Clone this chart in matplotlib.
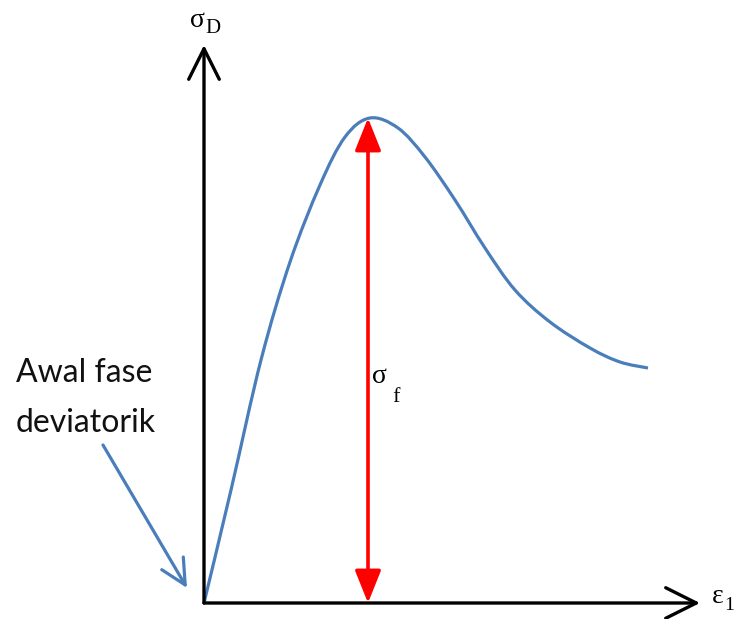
import matplotlib
matplotlib.use("Agg")
import matplotlib.pyplot as plt
from matplotlib.path import Path
from matplotlib.patches import PathPatch

# Deviator stress vs axial strain (arbitrary units)
strain = [0, 27, 57, 86, 116, 141, 166, 194, 221, 251, 281, 311, 346, 386,
          416, 444]
stress = [0, 113, 243, 341, 418, 466, 485, 475, 446, 403, 355, 313, 281, 255,
          241, 235]
peak_strain = 164
peak_stress = 485

x_axis_end = 496
y_axis_end = 558

BLUE = "#4a7ebb"


def smooth_path(xs, ys):
    """Cubic Bezier path passing through every point (Catmull-Rom tangents)."""
    pts = list(zip(xs, ys))
    verts = [pts[0]]
    codes = [Path.MOVETO]
    n = len(pts)
    for i in range(n - 1):
        p0 = pts[i - 1] if i > 0 else pts[i]
        p1 = pts[i]
        p2 = pts[i + 1]
        p3 = pts[i + 2] if i + 2 < n else pts[i + 1]
        c1 = (p1[0] + (p2[0] - p0[0]) / 6, p1[1] + (p2[1] - p0[1]) / 6)
        c2 = (p2[0] - (p3[0] - p1[0]) / 6, p2[1] - (p3[1] - p1[1]) / 6)
        verts += [c1, c2, p2]
        codes += [Path.CURVE4] * 3
    return Path(verts, codes)


fig = plt.figure(figsize=(7.38, 6.19), dpi=100)
ax = fig.add_axes([0, 0, 1, 1])
ax.set_xlim(-204, 534)
ax.set_ylim(-16, 603)
ax.axis("off")

# axes with open arrowheads
axis_style = "->,head_length=22,head_width=11"
ax.annotate("", xy=(x_axis_end, 0), xytext=(0, 0),
            arrowprops=dict(arrowstyle=axis_style, mutation_scale=1,
                            lw=2.4, color="black", shrinkA=0, shrinkB=0))
ax.annotate("", xy=(0, y_axis_end), xytext=(0, 0),
            arrowprops=dict(arrowstyle=axis_style, mutation_scale=1,
                            lw=2.4, color="black", shrinkA=0, shrinkB=0))

# stress-strain curve
ax.add_patch(PathPatch(smooth_path(strain, stress), facecolor="none",
                       edgecolor=BLUE, lw=2.3, capstyle="butt",
                       joinstyle="round"))

# failure stress arrow
ax.annotate("", xy=(peak_strain, peak_stress), xytext=(peak_strain, 0),
            arrowprops=dict(arrowstyle="<|-|>,head_length=20,head_width=8",
                            mutation_scale=1, lw=2.6, color="#ff0000",
                            shrinkA=0, shrinkB=0))

serif = ["Liberation Serif", "DejaVu Serif"]
ax.text(-14, 570, "σ", fontsize=20, family=serif, ha="left", va="bottom")
ax.text(1, 565, "D", fontsize=15, family=serif, ha="left", va="bottom")
ax.text(508, -6, "ε", fontsize=20, family=serif, ha="left", va="bottom")
ax.text(520, -11, "1", fontsize=14, family=serif, ha="left", va="bottom")
ax.text(168, 214, "σ", fontsize=20, family=serif, ha="left", va="bottom")
ax.text(188, 196, "f", fontsize=16, family=serif, ha="left", va="bottom")

# annotation for start of the deviatoric phase
label_font = ["Lato", "DejaVu Sans"]
ax.text(-120, 221, "Awal fase", fontsize=23, family=label_font,
        ha="center", va="baseline", color="#111111")
ax.text(-118, 171, "deviatorik", fontsize=23, family=label_font,
        ha="center", va="baseline", color="#111111")
ax.annotate("", xy=(-17, 15), xytext=(-101, 158),
            arrowprops=dict(arrowstyle="->,head_length=18,head_width=9",
                            mutation_scale=1, lw=2.3, color=BLUE,
                            shrinkA=0, shrinkB=0))

fig.savefig("out.png", dpi=100)
